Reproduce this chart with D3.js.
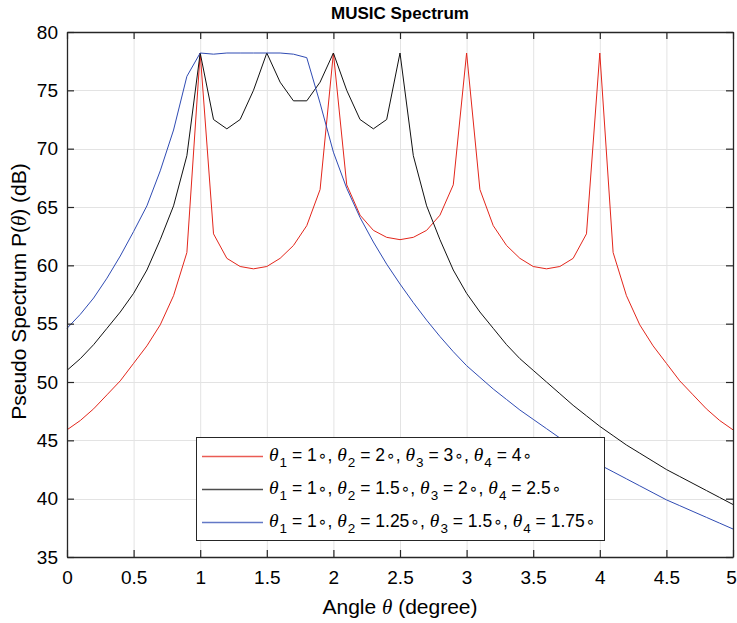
<!DOCTYPE html>
<html>
<head>
<meta charset="utf-8">
<script src="https://cdn.jsdelivr.net/npm/d3@7"></script>
<style>
  body { margin: 0; background: #fff; }
  text { font-family: "Liberation Sans", Arial, sans-serif; fill: #000; }
</style>
</head>
<body>
<div id="chart"></div>
<script>
// angle grid of the scan (degree)
var angles = [0, 0.1, 0.2, 0.3, 0.4, 0.5, 0.6, 0.7, 0.8, 0.9,
              1, 1.1, 1.2, 1.3, 1.4, 1.5, 1.6, 1.7, 1.8, 1.9,
              2, 2.1, 2.2, 2.3, 2.4, 2.5, 2.6, 2.7, 2.8, 2.9,
              3, 3.1, 3.2, 3.3, 3.4, 3.5, 3.6, 3.7, 3.8, 3.9,
              4, 4.1, 4.2, 4.3, 4.4, 4.5, 4.6, 4.7, 4.8, 4.9, 5];

// theta = 1, 2, 3, 4
var specRed = [45.9, 46.7, 47.7, 48.9, 50.1, 51.6, 53.1, 54.9, 57.4, 61.1,
               78.2, 62.7, 60.6, 59.9, 59.7, 59.9, 60.6, 61.7, 63.4, 66.5,
               78.2, 66.9, 64.3, 63.0, 62.4, 62.2, 62.4, 63.0, 64.3, 66.9,
               78.2, 66.5, 63.4, 61.7, 60.6, 59.9, 59.7, 59.9, 60.6, 62.7,
               78.2, 61.1, 57.4, 54.9, 53.1, 51.6, 50.1, 48.9, 47.7, 46.7, 45.9];

// theta = 1, 1.5, 2, 2.5
var specBlack = [51.0, 52.0, 53.2, 54.6, 56.0, 57.6, 59.6, 62.2, 65.1, 69.4,
                 78.2, 72.5, 71.7, 72.5, 75.0, 78.2, 75.7, 74.1, 74.1, 75.7,
                 78.2, 75.0, 72.5, 71.7, 72.5, 78.2, 69.4, 65.1, 62.2, 59.6,
                 57.6, 56.0, 54.6, 53.2, 52.0, 51.0, 50.0, 49.0, 48.0, 47.1,
                 46.2, 45.4, 44.6, 43.9, 43.2, 42.5, 41.9, 41.3, 40.7, 40.1, 39.5];

// theta = 1, 1.25, 1.5, 1.75
var specBlue = [54.6, 55.8, 57.2, 58.9, 60.8, 62.9, 65.1, 68.1, 71.6, 76.2,
                78.2, 78.1, 78.2, 78.2, 78.2, 78.2, 78.2, 78.1, 77.8, 73.9,
                69.7, 66.6, 64.1, 62.0, 60.1, 58.4, 56.8, 55.3, 53.9, 52.6,
                51.4, 50.4, 49.4, 48.5, 47.6, 46.8, 46.0, 45.2, 44.4, 43.6,
                42.9, 42.3, 41.7, 41.1, 40.5, 39.9, 39.4, 38.9, 38.4, 37.9, 37.4];

var xTicks = [0, 0.5, 1, 1.5, 2, 2.5, 3, 3.5, 4, 4.5, 5];
var yTicks = [35, 40, 45, 50, 55, 60, 65, 70, 75, 80];

// legend entries: [subscript, value] pairs
var legendRed = [["1", "1"], ["2", "2"], ["3", "3"], ["4", "4"]];
var legendBlack = [["1", "1"], ["2", "1.5"], ["3", "2"], ["4", "2.5"]];
var legendBlue = [["1", "1"], ["2", "1.25"], ["3", "1.5"], ["4", "1.75"]];

var series = [
    {values: specRed, color: "#e3261b", legend: legendRed},
    {values: specBlack, color: "#111111", legend: legendBlack},
    {values: specBlue, color: "#2f4bb3", legend: legendBlue}
];

var totalWidth = 737,
    totalHeight = 623,
    margin = {top: 32, right: 4, bottom: 66, left: 67},
    width = totalWidth - margin.left - margin.right,
    height = totalHeight - margin.top - margin.bottom,
    axisColor = "#262626",
    gridColor = "#e3e3e3",
    tickLen = 7,
    tickFont = 19,
    labelFont = 21;

var x = d3.scaleLinear().domain([0, 5]).range([0, width]);
var y = d3.scaleLinear().domain([35, 80]).range([height, 0]);

var svg = d3.select("#chart").append("svg")
    .attr("width", totalWidth)
    .attr("height", totalHeight);

var g = svg.append("g")
    .attr("transform", "translate(" + margin.left + "," + margin.top + ")");

// grid
g.append("g").attr("class", "grid")
    .selectAll("line.gx")
    .data(xTicks.slice(1, -1))
    .enter().append("line")
    .attr("x1", function(d){ return x(d) + 0.5; })
    .attr("x2", function(d){ return x(d) + 0.5; })
    .attr("y1", 0).attr("y2", height)
    .attr("stroke", gridColor);

g.select(".grid")
    .selectAll("line.gy")
    .data(yTicks.slice(1, -1))
    .enter().append("line")
    .attr("y1", function(d){ return Math.round(y(d)) + 0.5; })
    .attr("y2", function(d){ return Math.round(y(d)) + 0.5; })
    .attr("x1", 0).attr("x2", width)
    .attr("stroke", gridColor);

// curves
var line = d3.line()
    .x(function(d, i){ return x(angles[i]); })
    .y(function(d){ return y(d); });

g.selectAll("path.curve")
    .data(series)
    .enter().append("path")
    .attr("class", "curve")
    .attr("fill", "none")
    .attr("stroke", function(d){ return d.color; })
    .attr("stroke-width", 1)
    .attr("d", function(d){ return line(d.values); });

// axes, ticks pointing inward on all four sides (box on)
function styleAxis(sel) {
    sel.select(".domain").attr("stroke", axisColor).attr("stroke-width", 1.3);
    sel.selectAll(".tick line").attr("stroke", axisColor).attr("stroke-width", 1.2);
}

var xAxisBottom = d3.axisBottom(x).tickValues(xTicks)
    .tickSizeInner(-tickLen).tickSizeOuter(0)
    .tickFormat(d3.format("~g")).tickPadding(14);
var xAxisTop = d3.axisTop(x).tickValues(xTicks)
    .tickSizeInner(-tickLen).tickSizeOuter(0).tickFormat("");
var yAxisLeft = d3.axisLeft(y).tickValues(yTicks)
    .tickSizeInner(-tickLen).tickSizeOuter(0).tickPadding(9);
var yAxisRight = d3.axisRight(y).tickValues(yTicks)
    .tickSizeInner(-tickLen).tickSizeOuter(0).tickFormat("");

g.append("g").attr("transform", "translate(0," + height + ")")
    .call(xAxisBottom).call(styleAxis)
    .selectAll("text").attr("font-size", tickFont).attr("fill", "#000")
    .attr("font-family", "Liberation Sans, Arial, sans-serif")
    .attr("dx", function(d){ return d === 5 ? "-2" : null; }); // keep last label inside the page
g.append("g").call(xAxisTop).call(styleAxis);
g.append("g").call(yAxisLeft).call(styleAxis)
    .selectAll("text").attr("font-size", tickFont).attr("fill", "#000")
    .attr("font-family", "Liberation Sans, Arial, sans-serif");
g.append("g").attr("transform", "translate(" + width + ",0)")
    .call(yAxisRight).call(styleAxis);

// title and labels
svg.append("text")
    .attr("x", margin.left + width / 2)
    .attr("y", 19)
    .attr("text-anchor", "middle")
    .attr("font-size", 17)
    .attr("font-weight", "bold")
    .text("MUSIC Spectrum");

var xl = svg.append("text")
    .attr("x", margin.left + width / 2)
    .attr("y", 614)
    .attr("text-anchor", "middle")
    .attr("font-size", labelFont);
xl.append("tspan").text("Angle ");
xl.append("tspan").attr("font-family", "Liberation Serif, serif").attr("font-style", "italic").text("θ");
xl.append("tspan").text(" (degree)");

var yl = svg.append("text")
    .attr("transform", "translate(26," + (margin.top + height / 2 - 3) + ") rotate(-90)")
    .attr("text-anchor", "middle")
    .attr("font-size", labelFont);
yl.append("tspan").text("Pseudo Spectrum P(");
yl.append("tspan").attr("font-family", "Liberation Serif, serif").attr("font-style", "italic").text("θ");
yl.append("tspan").text(") (dB)");

// legend
var legend = svg.append("g").attr("class", "legend");
legend.append("rect")
    .attr("x", 196.5).attr("y", 437.5)
    .attr("width", 408).attr("height", 103)
    .attr("fill", "#fff")
    .attr("stroke", axisColor)
    .attr("stroke-width", 1);

var rowY = [456, 489, 522];
series.forEach(function(s, k){
    legend.append("line")
        .attr("x1", 202).attr("x2", 263)
        .attr("y1", rowY[k] + 0.5).attr("y2", rowY[k] + 0.5)
        .attr("stroke", s.color)
        .attr("stroke-opacity", 0.75)
        .attr("stroke-width", 1.5);

    var t = legend.append("text")
        .attr("x", 269)
        .attr("y", rowY[k] + 5)
        .attr("font-size", 17.5);
    s.legend.forEach(function(p, i){
        t.append("tspan").attr("font-family", "Liberation Serif, serif")
            .attr("font-style", "italic").attr("font-size", 19.5).text("θ");
        t.append("tspan").attr("font-size", 13.5).attr("dy", 6).attr("dx", 1).text(p[0]);
        t.append("tspan").attr("dy", -6).text(" = " + p[1]);
        t.append("tspan").attr("font-family", "DejaVu Sans, sans-serif")
            .attr("font-size", 15.5).attr("dx", 1).text("∘");
        if (i < s.legend.length - 1) t.append("tspan").text(", ");
    });
});
</script>
</body>
</html>
